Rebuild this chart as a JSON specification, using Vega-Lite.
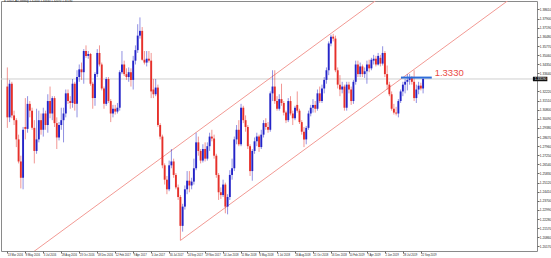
{
"$schema":"https://vega.github.io/schema/vega-lite/v6.json",
"width":536,"height":250,"autosize":"none",
"padding":{"left":1,"top":1,"right":14,"bottom":7},
"background":"white",
"config":{"view":{"stroke":"#8a8a8a","strokeWidth":1},"font":"Liberation Sans"},
"title":{"text":"▼ USDCAD,Weekly  1.32450 1.33340 1.32070 1.33190","anchor":"start","fontSize":2.8,"fontWeight":"normal","color":"#222","baseline":"bottom","offset":0,"dy":4,"dx":3},
"resolve":{"axis":{"x":"independent","y":"independent"}},
"datasets":{
"bid":[{"p":1.3319,"t1":"2020-09-05","t2":"2020-10-20","tl":"2020-09-11"}],
"channel":[{"t1":"2016-05-22","p1":1.1951,"t2":"2019-05-12","p2":1.3944},{"t1":"2017-09-03","p1":1.2060,"t2":"2020-07-05","p2":1.3959}],
"level":[{"t1":"2019-07-22","t2":"2019-10-26","tl":"2019-11-04","p":1.3330,"label":"1.3330"}],
"candles":[
{"d":"2016-03-13","o":1.3260,"h":1.3409,"l":1.2938,"c":1.3020},
{"d":"2016-03-20","o":1.3020,"h":1.3312,"l":1.2983,"c":1.3282},
{"d":"2016-03-27","o":1.3282,"h":1.3297,"l":1.3013,"c":1.3035},
{"d":"2016-04-03","o":1.3035,"h":1.3072,"l":1.2960,"c":1.2998},
{"d":"2016-04-10","o":1.2998,"h":1.3013,"l":1.2788,"c":1.2848},
{"d":"2016-04-17","o":1.2848,"h":1.2885,"l":1.2661,"c":1.2676},
{"d":"2016-04-24","o":1.2676,"h":1.2721,"l":1.2466,"c":1.2549},
{"d":"2016-05-01","o":1.2549,"h":1.2945,"l":1.2459,"c":1.2923},
{"d":"2016-05-08","o":1.2945,"h":1.3170,"l":1.2848,"c":1.2930},
{"d":"2016-05-15","o":1.2930,"h":1.3185,"l":1.2900,"c":1.3125},
{"d":"2016-05-22","o":1.3125,"h":1.3147,"l":1.3020,"c":1.3072},
{"d":"2016-05-29","o":1.3072,"h":1.3095,"l":1.2923,"c":1.2938},
{"d":"2016-06-05","o":1.2938,"h":1.2998,"l":1.2661,"c":1.2758},
{"d":"2016-06-12","o":1.2758,"h":1.3087,"l":1.2736,"c":1.2848},
{"d":"2016-06-19","o":1.2848,"h":1.3072,"l":1.2825,"c":1.2998},
{"d":"2016-06-26","o":1.2998,"h":1.3050,"l":1.2885,"c":1.2923},
{"d":"2016-07-03","o":1.2923,"h":1.3095,"l":1.2870,"c":1.3050},
{"d":"2016-07-10","o":1.3050,"h":1.3072,"l":1.2923,"c":1.2960},
{"d":"2016-07-17","o":1.2960,"h":1.3200,"l":1.2900,"c":1.3147},
{"d":"2016-07-24","o":1.3147,"h":1.3260,"l":1.3013,"c":1.3050},
{"d":"2016-07-31","o":1.3050,"h":1.3185,"l":1.2998,"c":1.3170},
{"d":"2016-08-07","o":1.3170,"h":1.3185,"l":1.2945,"c":1.2975},
{"d":"2016-08-14","o":1.2975,"h":1.3020,"l":1.2773,"c":1.2863},
{"d":"2016-08-21","o":1.2863,"h":1.2983,"l":1.2840,"c":1.2960},
{"d":"2016-08-28","o":1.2960,"h":1.3095,"l":1.2923,"c":1.2998},
{"d":"2016-09-04","o":1.2998,"h":1.3095,"l":1.2825,"c":1.3050},
{"d":"2016-09-11","o":1.3050,"h":1.3237,"l":1.3020,"c":1.3207},
{"d":"2016-09-18","o":1.3207,"h":1.3237,"l":1.3125,"c":1.3147},
{"d":"2016-09-25","o":1.3147,"h":1.3185,"l":1.3087,"c":1.3132},
{"d":"2016-10-02","o":1.3132,"h":1.3319,"l":1.3095,"c":1.3282},
{"d":"2016-10-09","o":1.3282,"h":1.3297,"l":1.3072,"c":1.3125},
{"d":"2016-10-16","o":1.3125,"h":1.3387,"l":1.3020,"c":1.3334},
{"d":"2016-10-23","o":1.3334,"h":1.3432,"l":1.3297,"c":1.3394},
{"d":"2016-10-30","o":1.3394,"h":1.3447,"l":1.3312,"c":1.3372},
{"d":"2016-11-06","o":1.3372,"h":1.3552,"l":1.3282,"c":1.3537},
{"d":"2016-11-13","o":1.3537,"h":1.3581,"l":1.3484,"c":1.3499},
{"d":"2016-11-20","o":1.3499,"h":1.3537,"l":1.3477,"c":1.3514},
{"d":"2016-11-27","o":1.3514,"h":1.3522,"l":1.3267,"c":1.3282},
{"d":"2016-12-04","o":1.3282,"h":1.3297,"l":1.3087,"c":1.3170},
{"d":"2016-12-11","o":1.3170,"h":1.3372,"l":1.3110,"c":1.3357},
{"d":"2016-12-18","o":1.3357,"h":1.3552,"l":1.3334,"c":1.3522},
{"d":"2016-12-25","o":1.3522,"h":1.3581,"l":1.3417,"c":1.3432},
{"d":"2017-01-01","o":1.3432,"h":1.3447,"l":1.3230,"c":1.3245},
{"d":"2017-01-08","o":1.3245,"h":1.3260,"l":1.3087,"c":1.3125},
{"d":"2017-01-15","o":1.3125,"h":1.3334,"l":1.3110,"c":1.3319},
{"d":"2017-01-22","o":1.3319,"h":1.3334,"l":1.3132,"c":1.3147},
{"d":"2017-01-29","o":1.3147,"h":1.3162,"l":1.2983,"c":1.3050},
{"d":"2017-02-05","o":1.3050,"h":1.3117,"l":1.3020,"c":1.3087},
{"d":"2017-02-12","o":1.3087,"h":1.3117,"l":1.3042,"c":1.3065},
{"d":"2017-02-19","o":1.3065,"h":1.3132,"l":1.3050,"c":1.3095},
{"d":"2017-02-26","o":1.3095,"h":1.3387,"l":1.3072,"c":1.3372},
{"d":"2017-03-05","o":1.3372,"h":1.3537,"l":1.3357,"c":1.3432},
{"d":"2017-03-12","o":1.3432,"h":1.3462,"l":1.3342,"c":1.3357},
{"d":"2017-03-19","o":1.3357,"h":1.3402,"l":1.3312,"c":1.3334},
{"d":"2017-03-26","o":1.3334,"h":1.3409,"l":1.3297,"c":1.3372},
{"d":"2017-04-02","o":1.3372,"h":1.3402,"l":1.3260,"c":1.3312},
{"d":"2017-04-09","o":1.3312,"h":1.3499,"l":1.3237,"c":1.3462},
{"d":"2017-04-16","o":1.3462,"h":1.3581,"l":1.3432,"c":1.3544},
{"d":"2017-04-23","o":1.3544,"h":1.3746,"l":1.3522,"c":1.3657},
{"d":"2017-04-30","o":1.3657,"h":1.3799,"l":1.3634,"c":1.3694},
{"d":"2017-05-07","o":1.3694,"h":1.3724,"l":1.3462,"c":1.3469},
{"d":"2017-05-14","o":1.3469,"h":1.3537,"l":1.3432,"c":1.3447},
{"d":"2017-05-21","o":1.3447,"h":1.3537,"l":1.3417,"c":1.3477},
{"d":"2017-05-28","o":1.3477,"h":1.3537,"l":1.3447,"c":1.3462},
{"d":"2017-06-04","o":1.3462,"h":1.3522,"l":1.3170,"c":1.3222},
{"d":"2017-06-11","o":1.3237,"h":1.3319,"l":1.3170,"c":1.3200},
{"d":"2017-06-18","o":1.3200,"h":1.3319,"l":1.3185,"c":1.3252},
{"d":"2017-06-25","o":1.3252,"h":1.3275,"l":1.2945,"c":1.2960},
{"d":"2017-07-02","o":1.2960,"h":1.2975,"l":1.2848,"c":1.2870},
{"d":"2017-07-09","o":1.2870,"h":1.2885,"l":1.2623,"c":1.2646},
{"d":"2017-07-16","o":1.2646,"h":1.2661,"l":1.2496,"c":1.2534},
{"d":"2017-07-23","o":1.2534,"h":1.2563,"l":1.2421,"c":1.2459},
{"d":"2017-07-30","o":1.2459,"h":1.2683,"l":1.2444,"c":1.2646},
{"d":"2017-08-06","o":1.2646,"h":1.2773,"l":1.2623,"c":1.2676},
{"d":"2017-08-13","o":1.2676,"h":1.2698,"l":1.2549,"c":1.2571},
{"d":"2017-08-20","o":1.2571,"h":1.2586,"l":1.2459,"c":1.2474},
{"d":"2017-08-27","o":1.2474,"h":1.2496,"l":1.2376,"c":1.2399},
{"d":"2017-09-03","o":1.2399,"h":1.2414,"l":1.2062,"c":1.2174},
{"d":"2017-09-10","o":1.2174,"h":1.2346,"l":1.2129,"c":1.2324},
{"d":"2017-09-17","o":1.2324,"h":1.2489,"l":1.2301,"c":1.2459},
{"d":"2017-09-24","o":1.2459,"h":1.2601,"l":1.2421,"c":1.2526},
{"d":"2017-10-01","o":1.2526,"h":1.2601,"l":1.2436,"c":1.2489},
{"d":"2017-10-08","o":1.2489,"h":1.2549,"l":1.2459,"c":1.2519},
{"d":"2017-10-15","o":1.2519,"h":1.2698,"l":1.2496,"c":1.2623},
{"d":"2017-10-22","o":1.2623,"h":1.2900,"l":1.2608,"c":1.2825},
{"d":"2017-10-29","o":1.2825,"h":1.2870,"l":1.2721,"c":1.2758},
{"d":"2017-11-05","o":1.2758,"h":1.2773,"l":1.2661,"c":1.2683},
{"d":"2017-11-12","o":1.2683,"h":1.2810,"l":1.2668,"c":1.2773},
{"d":"2017-11-19","o":1.2773,"h":1.2825,"l":1.2676,"c":1.2698},
{"d":"2017-11-26","o":1.2698,"h":1.2825,"l":1.2683,"c":1.2795},
{"d":"2017-12-03","o":1.2795,"h":1.2900,"l":1.2758,"c":1.2870},
{"d":"2017-12-10","o":1.2870,"h":1.2923,"l":1.2833,"c":1.2855},
{"d":"2017-12-17","o":1.2855,"h":1.2885,"l":1.2698,"c":1.2721},
{"d":"2017-12-24","o":1.2721,"h":1.2736,"l":1.2549,"c":1.2571},
{"d":"2017-12-31","o":1.2571,"h":1.2586,"l":1.2376,"c":1.2436},
{"d":"2018-01-07","o":1.2436,"h":1.2474,"l":1.2384,"c":1.2414},
{"d":"2018-01-14","o":1.2414,"h":1.2534,"l":1.2399,"c":1.2496},
{"d":"2018-01-21","o":1.2496,"h":1.2511,"l":1.2272,"c":1.2324},
{"d":"2018-01-28","o":1.2324,"h":1.2421,"l":1.2264,"c":1.2399},
{"d":"2018-02-04","o":1.2399,"h":1.2608,"l":1.2376,"c":1.2571},
{"d":"2018-02-11","o":1.2571,"h":1.2698,"l":1.2534,"c":1.2623},
{"d":"2018-02-18","o":1.2623,"h":1.2870,"l":1.2601,"c":1.2848},
{"d":"2018-02-25","o":1.2848,"h":1.2960,"l":1.2810,"c":1.2923},
{"d":"2018-03-04","o":1.2923,"h":1.2998,"l":1.2795,"c":1.2810},
{"d":"2018-03-11","o":1.2810,"h":1.3125,"l":1.2795,"c":1.3095},
{"d":"2018-03-18","o":1.3095,"h":1.3110,"l":1.2975,"c":1.2998},
{"d":"2018-03-25","o":1.2998,"h":1.3035,"l":1.2908,"c":1.2945},
{"d":"2018-04-01","o":1.2945,"h":1.2960,"l":1.2773,"c":1.2795},
{"d":"2018-04-08","o":1.2795,"h":1.2810,"l":1.2563,"c":1.2601},
{"d":"2018-04-15","o":1.2601,"h":1.2773,"l":1.2526,"c":1.2758},
{"d":"2018-04-22","o":1.2758,"h":1.2863,"l":1.2736,"c":1.2833},
{"d":"2018-04-29","o":1.2833,"h":1.2900,"l":1.2795,"c":1.2870},
{"d":"2018-05-06","o":1.2870,"h":1.2885,"l":1.2751,"c":1.2788},
{"d":"2018-05-13","o":1.2788,"h":1.2923,"l":1.2773,"c":1.2885},
{"d":"2018-05-20","o":1.2885,"h":1.2998,"l":1.2863,"c":1.2975},
{"d":"2018-05-27","o":1.2975,"h":1.3013,"l":1.2923,"c":1.2945},
{"d":"2018-06-03","o":1.2945,"h":1.2983,"l":1.2900,"c":1.2923},
{"d":"2018-06-10","o":1.2923,"h":1.3222,"l":1.2908,"c":1.3207},
{"d":"2018-06-17","o":1.3207,"h":1.3387,"l":1.3147,"c":1.3260},
{"d":"2018-06-24","o":1.3260,"h":1.3387,"l":1.3125,"c":1.3147},
{"d":"2018-07-01","o":1.3147,"h":1.3185,"l":1.3072,"c":1.3087},
{"d":"2018-07-08","o":1.3087,"h":1.3200,"l":1.3072,"c":1.3162},
{"d":"2018-07-15","o":1.3162,"h":1.3282,"l":1.3110,"c":1.3132},
{"d":"2018-07-22","o":1.3132,"h":1.3147,"l":1.3035,"c":1.3057},
{"d":"2018-07-29","o":1.3057,"h":1.3072,"l":1.2975,"c":1.2998},
{"d":"2018-08-05","o":1.2998,"h":1.3170,"l":1.2983,"c":1.3147},
{"d":"2018-08-12","o":1.3147,"h":1.3185,"l":1.3035,"c":1.3050},
{"d":"2018-08-19","o":1.3050,"h":1.3072,"l":1.2960,"c":1.3013},
{"d":"2018-08-26","o":1.3013,"h":1.3110,"l":1.2998,"c":1.3095},
{"d":"2018-09-02","o":1.3117,"h":1.3222,"l":1.3057,"c":1.3072},
{"d":"2018-09-09","o":1.3072,"h":1.3087,"l":1.2968,"c":1.2983},
{"d":"2018-09-16","o":1.2983,"h":1.2998,"l":1.2885,"c":1.2908},
{"d":"2018-09-23","o":1.2908,"h":1.2945,"l":1.2788,"c":1.2848},
{"d":"2018-09-30","o":1.2848,"h":1.2953,"l":1.2810,"c":1.2938},
{"d":"2018-10-07","o":1.2938,"h":1.3072,"l":1.2923,"c":1.3050},
{"d":"2018-10-14","o":1.3050,"h":1.3117,"l":1.3028,"c":1.3095},
{"d":"2018-10-21","o":1.3095,"h":1.3162,"l":1.3057,"c":1.3117},
{"d":"2018-10-28","o":1.3117,"h":1.3147,"l":1.3057,"c":1.3087},
{"d":"2018-11-04","o":1.3087,"h":1.3237,"l":1.3072,"c":1.3207},
{"d":"2018-11-11","o":1.3207,"h":1.3260,"l":1.3132,"c":1.3147},
{"d":"2018-11-18","o":1.3147,"h":1.3275,"l":1.3132,"c":1.3245},
{"d":"2018-11-25","o":1.3245,"h":1.3334,"l":1.3207,"c":1.3312},
{"d":"2018-12-02","o":1.3312,"h":1.3409,"l":1.3282,"c":1.3387},
{"d":"2018-12-09","o":1.3387,"h":1.3612,"l":1.3349,"c":1.3596},
{"d":"2018-12-16","o":1.3596,"h":1.3664,"l":1.3574,"c":1.3649},
{"d":"2018-12-23","o":1.3649,"h":1.3671,"l":1.3612,"c":1.3634},
{"d":"2018-12-30","o":1.3634,"h":1.3657,"l":1.3372,"c":1.3387},
{"d":"2019-01-06","o":1.3387,"h":1.3409,"l":1.3245,"c":1.3275},
{"d":"2019-01-13","o":1.3275,"h":1.3349,"l":1.3185,"c":1.3237},
{"d":"2019-01-20","o":1.3237,"h":1.3297,"l":1.3207,"c":1.3260},
{"d":"2019-01-27","o":1.3260,"h":1.3275,"l":1.3072,"c":1.3095},
{"d":"2019-02-03","o":1.3095,"h":1.3297,"l":1.3072,"c":1.3275},
{"d":"2019-02-10","o":1.3275,"h":1.3297,"l":1.3207,"c":1.3237},
{"d":"2019-02-17","o":1.3237,"h":1.3260,"l":1.3117,"c":1.3147},
{"d":"2019-02-24","o":1.3147,"h":1.3312,"l":1.3125,"c":1.3297},
{"d":"2019-03-03","o":1.3297,"h":1.3462,"l":1.3275,"c":1.3432},
{"d":"2019-03-10","o":1.3432,"h":1.3462,"l":1.3334,"c":1.3357},
{"d":"2019-03-17","o":1.3357,"h":1.3447,"l":1.3334,"c":1.3417},
{"d":"2019-03-24","o":1.3417,"h":1.3432,"l":1.3334,"c":1.3357},
{"d":"2019-03-31","o":1.3357,"h":1.3409,"l":1.3327,"c":1.3379},
{"d":"2019-04-07","o":1.3379,"h":1.3462,"l":1.3282,"c":1.3432},
{"d":"2019-04-14","o":1.3432,"h":1.3469,"l":1.3372,"c":1.3402},
{"d":"2019-04-21","o":1.3402,"h":1.3484,"l":1.3387,"c":1.3469},
{"d":"2019-04-28","o":1.3462,"h":1.3507,"l":1.3432,"c":1.3477},
{"d":"2019-05-05","o":1.3477,"h":1.3499,"l":1.3417,"c":1.3432},
{"d":"2019-05-12","o":1.3432,"h":1.3522,"l":1.3424,"c":1.3499},
{"d":"2019-05-19","o":1.3484,"h":1.3507,"l":1.3417,"c":1.3439},
{"d":"2019-05-26","o":1.3439,"h":1.3574,"l":1.3424,"c":1.3522},
{"d":"2019-06-02","o":1.3522,"h":1.3537,"l":1.3334,"c":1.3357},
{"d":"2019-06-09","o":1.3357,"h":1.3424,"l":1.3237,"c":1.3275},
{"d":"2019-06-16","o":1.3275,"h":1.3297,"l":1.3185,"c":1.3200},
{"d":"2019-06-23","o":1.3200,"h":1.3222,"l":1.3072,"c":1.3087},
{"d":"2019-06-30","o":1.3087,"h":1.3125,"l":1.3042,"c":1.3057},
{"d":"2019-07-07","o":1.3057,"h":1.3102,"l":1.3035,"c":1.3050},
{"d":"2019-07-14","o":1.3050,"h":1.3162,"l":1.3020,"c":1.3147},
{"d":"2019-07-21","o":1.3147,"h":1.3237,"l":1.3132,"c":1.3222},
{"d":"2019-07-28","o":1.3222,"h":1.3297,"l":1.3185,"c":1.3275},
{"d":"2019-08-04","o":1.3275,"h":1.3319,"l":1.3207,"c":1.3297},
{"d":"2019-08-11","o":1.3297,"h":1.3357,"l":1.3230,"c":1.3312},
{"d":"2019-08-18","o":1.3312,"h":1.3357,"l":1.3275,"c":1.3327},
{"d":"2019-08-25","o":1.3327,"h":1.3342,"l":1.3275,"c":1.3297},
{"d":"2019-09-01","o":1.3297,"h":1.3387,"l":1.3147,"c":1.3170},
{"d":"2019-09-08","o":1.3170,"h":1.3275,"l":1.3132,"c":1.3237},
{"d":"2019-09-15","o":1.3237,"h":1.3297,"l":1.3200,"c":1.3267},
{"d":"2019-09-22","o":1.3267,"h":1.3290,"l":1.3230,"c":1.3245},
{"d":"2019-09-29","o":1.3245,"h":1.3334,"l":1.3207,"c":1.3319}
]},
"layer":[
{"data":{"name":"bid"},"mark":{"type":"rule","color":"#cfcfcf","strokeWidth":1},
 "encoding":{"y":{"field":"p","type":"quantitative","scale":{"domain":[1.2017,1.3888],"zero":false,"nice":false},"axis":null}}},
{"data":{"name":"channel"},"mark":{"type":"rule","color":"#f29a94","strokeWidth":1,"clip":true},
 "encoding":{
  "x":{"field":"t1","type":"temporal","scale":{"type":"utc","domain":[{"year":2016,"month":3,"date":8,"hours":19,"utc":true},{"year":2020,"month":9,"date":2,"hours":5,"utc":true}]},"axis":null},
  "x2":{"field":"t2"},
  "y":{"field":"p1","type":"quantitative","scale":{"domain":[1.2017,1.3888],"zero":false,"nice":false},"axis":null},
  "y2":{"field":"p2"}}},
{"data":{"name":"candles"},"mark":{"type":"rule","strokeWidth":1,"opacity":0.5},
 "encoding":{
  "x":{"field":"d","type":"temporal","scale":{"type":"utc","domain":[{"year":2016,"month":3,"date":8,"hours":19,"utc":true},{"year":2020,"month":9,"date":2,"hours":5,"utc":true}]},"axis":null},
  "y":{"field":"l","type":"quantitative","scale":{"domain":[1.2017,1.3888],"zero":false,"nice":false},"axis":null},
  "y2":{"field":"h"},
  "color":{"condition":{"test":"datum.c >= datum.o","value":"#2424c8"},"value":"#e6302a"}}},
{"data":{"name":"candles"},"mark":{"type":"bar","size":1.9},
 "encoding":{
  "x":{"field":"d","type":"temporal","scale":{"type":"utc","domain":[{"year":2016,"month":3,"date":8,"hours":19,"utc":true},{"year":2020,"month":9,"date":2,"hours":5,"utc":true}]},
   "axis":{"title":null,"domain":false,"grid":false,"ticks":true,"tickSize":2,"tickColor":"#666","labelFontSize":2.7,"labelAlign":"left","labelBaseline":"top","labelPadding":1,"labelColor":"#222","labelOverlap":false,"labelFlush":false,"labelBound":false,"format":"%-d %b %Y",
    "values":[{"year":2016,"month":3,"date":13,"utc":true},{"year":2016,"month":5,"date":8,"utc":true},{"year":2016,"month":7,"date":3,"utc":true},{"year":2016,"month":8,"date":28,"utc":true},{"year":2016,"month":10,"date":23,"utc":true},{"year":2016,"month":12,"date":18,"utc":true},{"year":2017,"month":2,"date":12,"utc":true},{"year":2017,"month":4,"date":9,"utc":true},{"year":2017,"month":6,"date":4,"utc":true},{"year":2017,"month":7,"date":30,"utc":true},{"year":2017,"month":9,"date":24,"utc":true},{"year":2017,"month":11,"date":19,"utc":true},{"year":2018,"month":1,"date":14,"utc":true},{"year":2018,"month":3,"date":11,"utc":true},{"year":2018,"month":5,"date":6,"utc":true},{"year":2018,"month":7,"date":1,"utc":true},{"year":2018,"month":8,"date":26,"utc":true},{"year":2018,"month":10,"date":21,"utc":true},{"year":2018,"month":12,"date":16,"utc":true},{"year":2019,"month":2,"date":10,"utc":true},{"year":2019,"month":4,"date":7,"utc":true},{"year":2019,"month":6,"date":2,"utc":true},{"year":2019,"month":7,"date":28,"utc":true},{"year":2019,"month":9,"date":22,"utc":true}]}},
  "y":{"field":"o","type":"quantitative","scale":{"domain":[1.2017,1.3888],"zero":false,"nice":false},
   "axis":{"orient":"right","title":null,"domain":false,"grid":false,"ticks":true,"tickSize":2,"tickColor":"#666","labelFontSize":3.2,"labelPadding":0.3,"labelColor":"#222","labelOverlap":false,"labelFlush":false,"format":".5f",
    "values":[1.3861,1.3790,1.3719,1.3648,1.3577,1.3506,1.3435,1.3364,1.3222,1.3151,1.3080,1.3009,1.2938,1.2867,1.2796,1.2725,1.2654,1.2583,1.2512,1.2441,1.2370,1.2299,1.2228,1.2157,1.2086,1.2017]}},
  "y2":{"field":"c"},
  "color":{"condition":{"test":"datum.c >= datum.o","value":"#2424c8"},"value":"#e6302a"}}},
{"data":{"name":"level"},"mark":{"type":"rule","color":"#2f6ed8","strokeWidth":2},
 "encoding":{
  "x":{"field":"t1","type":"temporal","scale":{"type":"utc","domain":[{"year":2016,"month":3,"date":8,"hours":19,"utc":true},{"year":2020,"month":9,"date":2,"hours":5,"utc":true}]},"axis":null},
  "x2":{"field":"t2"},
  "y":{"field":"p","type":"quantitative","scale":{"domain":[1.2017,1.3888],"zero":false,"nice":false},"axis":null}}},
{"data":{"name":"level"},"mark":{"type":"text","color":"#ea4a44","fontSize":9.5,"align":"left","baseline":"bottom","dy":0},
 "encoding":{
  "x":{"field":"tl","type":"temporal","scale":{"type":"utc","domain":[{"year":2016,"month":3,"date":8,"hours":19,"utc":true},{"year":2020,"month":9,"date":2,"hours":5,"utc":true}]},"axis":null},
  "y":{"field":"p","type":"quantitative","scale":{"domain":[1.2017,1.3888],"zero":false,"nice":false},"axis":null},
  "text":{"field":"label"}}},
{"data":{"name":"bid"},"mark":{"type":"bar","color":"#111","size":4.5,"orient":"horizontal","clip":false},
 "encoding":{
  "x":{"field":"t1","type":"temporal","scale":{"type":"utc","domain":[{"year":2016,"month":3,"date":8,"hours":19,"utc":true},{"year":2020,"month":9,"date":2,"hours":5,"utc":true}]},"axis":null},
  "x2":{"field":"t2"},
  "y":{"field":"p","type":"quantitative","scale":{"domain":[1.2017,1.3888],"zero":false,"nice":false},"axis":null}}},
{"data":{"name":"bid"},"mark":{"type":"text","color":"white","fontSize":3.2,"align":"left","baseline":"middle"},
 "encoding":{
  "x":{"field":"tl","type":"temporal","scale":{"type":"utc","domain":[{"year":2016,"month":3,"date":8,"hours":19,"utc":true},{"year":2020,"month":9,"date":2,"hours":5,"utc":true}]},"axis":null},
  "y":{"field":"p","type":"quantitative","scale":{"domain":[1.2017,1.3888],"zero":false,"nice":false},"axis":null},
  "text":{"field":"p","format":".5f"}}}
]
}
